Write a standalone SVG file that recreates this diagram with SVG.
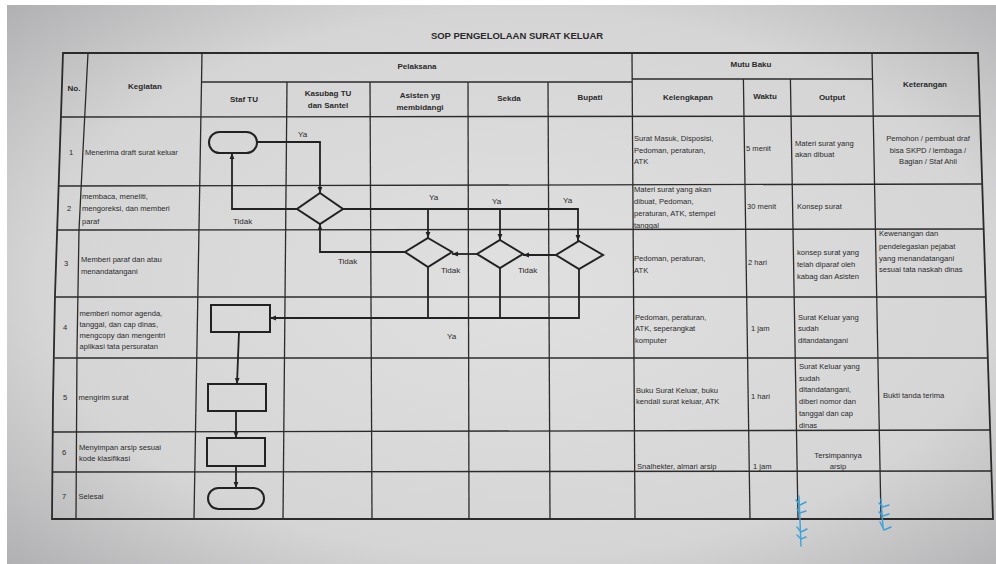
<svg xmlns="http://www.w3.org/2000/svg" width="996" height="564" viewBox="0 0 996 564">
<style>
.t{font-family:"Liberation Sans",Arial,sans-serif;font-size:7.6px;fill:#2a2a2a}
.h{font-family:"Liberation Sans",Arial,sans-serif;font-size:8px;font-weight:bold;fill:#2a2a2a;text-anchor:middle}
.m{text-anchor:middle}
.l{font-family:"Liberation Sans",Arial,sans-serif;font-size:8px;fill:#2a2a2a}
.g{stroke:#2b2b2b;stroke-width:1.3;fill:none}
.s{stroke:#222;stroke-width:2;fill:none}
.c{stroke:#222;stroke-width:1.8;fill:none}
.b{stroke:#3da2d8;stroke-width:1.4;fill:none;stroke-linecap:round}
</style>
<defs>
<radialGradient id="bg" cx="0.52" cy="0.5" r="0.75">
<stop offset="0" stop-color="#e0e0e0"/>
<stop offset="0.65" stop-color="#d5d5d6"/>
<stop offset="1" stop-color="#acacae"/>
</radialGradient>
<marker id="a" viewBox="0 0 10 10" refX="10" refY="5" markerWidth="6" markerHeight="6" orient="auto" markerUnits="userSpaceOnUse">
<path d="M0 1 L10 5 L0 9 Z" fill="#222"/>
</marker>
</defs>
<rect width="996" height="564" fill="#ffffff"/>
<rect x="7" y="5" width="989" height="559" fill="url(#bg)"/>

<text class="h" x="517" y="39" style="font-size:9.5px">SOP PENGELOLAAN SURAT KELUAR</text>

<g id="table">
<path class="g" d="M63 53 L978 53 L993 519 L52 519 L53 400 L55 295 L61 115 Z" style="stroke-width:1.8"/>
<polyline class="g" points="88,53 83,150 79,230 77,350 76,519"/>
<line class="g" x1="202" y1="53" x2="194" y2="519"/>
<line class="g" x1="287" y1="82" x2="283" y2="519"/>
<line class="g" x1="370" y1="82" x2="372" y2="519"/>
<line class="g" x1="468" y1="82" x2="469" y2="519"/>
<line class="g" x1="548" y1="82" x2="550" y2="519"/>
<line class="g" x1="632" y1="53" x2="635" y2="519"/>
<line class="g" x1="743.4" y1="79" x2="750" y2="519"/>
<line class="g" x1="790.4" y1="79" x2="798" y2="519"/>
<line class="g" x1="872" y1="53" x2="881" y2="519"/>
<line class="g" x1="202" y1="82" x2="632" y2="82"/>
<line class="g" x1="632" y1="79" x2="872.4" y2="79"/>
<line class="g" x1="61" y1="117" x2="980.1" y2="116"/>
<line class="g" x1="58.8" y1="186" x2="982.3" y2="184"/>
<line class="g" x1="57.3" y1="230" x2="983.7" y2="229"/>
<line class="g" x1="55" y1="297" x2="985.8" y2="297"/>
<line class="g" x1="54.5" y1="358" x2="987.8" y2="358"/>
<line class="g" x1="53" y1="432" x2="990.1" y2="430"/>
<line class="g" x1="52.7" y1="472" x2="991.4" y2="471"/>
</g>

<g id="header">
<text class="h" x="74" y="91">No.</text>
<text class="h" x="145" y="89">Kegiatan</text>
<text class="h" x="417" y="69">Pelaksana</text>
<text class="h" x="751" y="67">Mutu Baku</text>
<text class="h" x="925" y="87">Keterangan</text>
<text class="h" x="244" y="102">Staf TU</text>
<text class="h" x="328" y="96">Kasubag TU</text>
<text class="h" x="328" y="108">dan Santel</text>
<text class="h" x="420" y="98">Asisten yg</text>
<text class="h" x="420" y="110">membidangi</text>
<text class="h" x="509" y="101">Sekda</text>
<text class="h" x="590" y="100">Bupati</text>
<text class="h" x="688" y="100">Kelengkapan</text>
<text class="h" x="765" y="99">Waktu</text>
<text class="h" x="832" y="100">Output</text>
</g>

<g id="no">
<text class="t m" x="71" y="155">1</text>
<text class="t m" x="69" y="211">2</text>
<text class="t m" x="66" y="266">3</text>
<text class="t m" x="65" y="330">4</text>
<text class="t m" x="65" y="400">5</text>
<text class="t m" x="64" y="455">6</text>
<text class="t m" x="64" y="499">7</text>
</g>

<g id="kegiatan">
<text class="t" x="85" y="155">Menerima draft surat keluar</text>
<text class="t" x="82" y="199">membaca, meneliti,</text>
<text class="t" x="82" y="211">mengoreksi, dan memberi</text>
<text class="t" x="82" y="224">paraf</text>
<text class="t" x="81" y="262">Memberi paraf dan atau</text>
<text class="t" x="81" y="274">menandatangani</text>
<text class="t" x="79.5" y="316">memberi nomor agenda,</text>
<text class="t" x="79.5" y="327">tanggal, dan cap dinas,</text>
<text class="t" x="79.5" y="338">mengcopy dan mengentri</text>
<text class="t" x="79.5" y="349">aplikasi tata persuratan</text>
<text class="t" x="78.5" y="400">mengirim surat</text>
<text class="t" x="79" y="450">Menyimpan arsip sesuai</text>
<text class="t" x="79" y="461">kode klasifikasi</text>
<text class="t" x="78.5" y="499">Selesai</text>
</g>

<g id="mutu">
<text class="t" x="634" y="141">Surat Masuk, Disposisi,</text>
<text class="t" x="634" y="152.5">Pedoman, peraturan,</text>
<text class="t" x="634" y="164">ATK</text>
<text class="t" x="746" y="151">5 menit</text>
<text class="t" x="795" y="146">Materi surat yang</text>
<text class="t" x="795" y="157">akan dibuat</text>
<text class="t m" x="928" y="141">Pemohon / pembuat draf</text>
<text class="t m" x="928" y="152.5">bisa SKPD / lembaga /</text>
<text class="t m" x="928" y="164">Bagian / Staf Ahli</text>

<text class="t" x="634" y="192">Materi surat yang akan</text>
<text class="t" x="634" y="204">dibuat, Pedoman,</text>
<text class="t" x="634" y="216">peraturan, ATK, stempel</text>
<text class="t" x="634" y="228">tanggal</text>
<text class="t" x="747" y="209">30 menit</text>
<text class="t" x="797" y="209">Konsep surat</text>

<text class="t" x="634" y="261">Pedoman, peraturan,</text>
<text class="t" x="634" y="273">ATK</text>
<text class="t" x="748" y="265">2 hari</text>
<text class="t" x="797" y="255">konsep surat yang</text>
<text class="t" x="797" y="267">telah diparaf oleh</text>
<text class="t" x="797" y="279">kabag dan Asisten</text>
<text class="t" x="879" y="236">Kewenangan dan</text>
<text class="t" x="879" y="249">pendelegasian pejabat</text>
<text class="t" x="879" y="261">yang menandatangani</text>
<text class="t" x="879" y="272">sesuai tata naskah dinas</text>

<text class="t" x="635" y="320">Pedoman, peraturan,</text>
<text class="t" x="635" y="331">ATK, seperangkat</text>
<text class="t" x="635" y="343">komputer</text>
<text class="t" x="751" y="331">1 jam</text>
<text class="t" x="798" y="320">Surat Keluar yang</text>
<text class="t" x="798" y="331">sudah</text>
<text class="t" x="798" y="343">ditandatangani</text>

<text class="t" x="636" y="393">Buku  Surat Keluar, buku</text>
<text class="t" x="636" y="404">kendali surat keluar, ATK</text>
<text class="t" x="751" y="399">1 hari</text>
<text class="t" x="799" y="369">Surat Keluar yang</text>
<text class="t" x="799" y="381">sudah</text>
<text class="t" x="799" y="392">ditandatangani,</text>
<text class="t" x="799" y="404">diberi nomor dan</text>
<text class="t" x="799" y="416">tanggal dan cap</text>
<text class="t" x="799" y="428">dinas</text>
<text class="t" x="883" y="398">Bukti tanda terima</text>

<text class="t" x="637" y="469">Snalhekter, almari arsip</text>
<text class="t" x="753" y="469">1 jam</text>
<text class="t m" x="838" y="458">Tersimpannya</text>
<text class="t m" x="838" y="469">arsip</text>
</g>

<g id="start"><rect class="s" x="209" y="132" width="48" height="21" rx="10.5"/></g>
<g id="dec-kasubag"><polygon class="s" points="320,193 343,209 320,224 297,209"/></g>
<g id="dec-asisten"><polygon class="s" points="428,238 452,252 428,267 405,252"/></g>
<g id="dec-sekda"><polygon class="s" points="500,240 523,254 500,268 477,254"/></g>
<g id="dec-bupati"><polygon class="s" points="579,241 603,255 579,269 556,255"/></g>
<g id="proc-agenda"><rect class="s" x="211" y="305" width="59" height="27"/></g>
<g id="proc-kirim"><rect class="s" x="208" y="384" width="58" height="27"/></g>
<g id="proc-arsip"><rect class="s" x="207" y="438" width="58" height="28"/></g>
<g id="end"><rect class="s" x="208" y="488" width="56" height="21" rx="10.5"/></g>

<g id="connectors">
<path class="c" d="M257 142 H320 V193" marker-end="url(#a)"/>
<path class="c" d="M297 209 H232 V153" marker-end="url(#a)"/>
<path class="c" d="M343 209 H578 V241" marker-end="url(#a)"/>
<path class="c" d="M428 209 V238" marker-end="url(#a)"/>
<path class="c" d="M500 209 V240" marker-end="url(#a)"/>
<path class="c" d="M556 255 H523" marker-end="url(#a)"/>
<path class="c" d="M477 254 H452" marker-end="url(#a)"/>
<path class="c" d="M405 252 H320 V224" marker-end="url(#a)"/>
<path class="c" d="M428 267 V318"/>
<path class="c" d="M500 268 V318"/>
<path class="c" d="M579 269 V318 H270" marker-end="url(#a)"/>
<path class="c" d="M239 332 L237 384" marker-end="url(#a)"/>
<path class="c" d="M236 411 V438" marker-end="url(#a)"/>
<path class="c" d="M236 466 V488" marker-end="url(#a)"/>
<text class="l" x="298" y="137">Ya</text>
<text class="l" x="233" y="224">Tidak</text>
<text class="l" x="429" y="200">Ya</text>
<text class="l" x="492" y="204">Ya</text>
<text class="l" x="563" y="203">Ya</text>
<text class="l" x="338" y="264">Tidak</text>
<text class="l" x="441" y="273">Tidak</text>
<text class="l" x="518" y="273">Tidak</text>
<text class="l" x="447" y="339">Ya</text>
</g>

<g id="marks">
<path class="b" d="M799 496 L801 546"/>
<path class="b" d="M796 500 L800 505 L806 502"/>
<path class="b" d="M797 509 L800 513 L806 511"/>
<path class="b" d="M797 527 L801 532 L807 529"/>
<path class="b" d="M797 535 L801 539 L806 537"/>
<path class="b" d="M881 499 L883 527"/>
<path class="b" d="M879 503 L883 507 L889 505"/>
<path class="b" d="M879 512 L883 516 L889 514"/>
<path class="b" d="M880 522 L884 530 L891 527"/>
</g>
</svg>
